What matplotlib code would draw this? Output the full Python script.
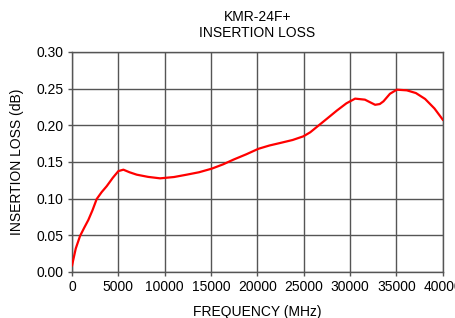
import matplotlib
matplotlib.use("Agg")
import matplotlib.pyplot as plt

plt.rcParams['font.family'] = ['Liberation Sans', 'DejaVu Sans']

# values
freq = [0, 400, 860, 1300, 1760, 2200, 2660, 3200, 3740, 4400, 5000, 5540,
        6200, 6980, 8200, 9500, 11000, 12370, 13700, 15070, 16300, 17410,
        18800, 20110, 21300, 22450, 23800, 24960, 25700, 26400, 27500,
        28560, 29600, 30540, 31600, 32700, 33200, 33600, 34300, 35040,
        36120, 37100, 38090, 39100, 40000]
loss = [0.009, 0.032, 0.049, 0.060, 0.071, 0.084, 0.0995, 0.109, 0.117,
        0.1285, 0.1376, 0.1395, 0.1360, 0.1327, 0.1297, 0.1277, 0.1295,
        0.1327, 0.1360, 0.1409, 0.1468, 0.1532, 0.1605, 0.1680, 0.1725,
        0.1759, 0.1800, 0.1850, 0.1905, 0.1977, 0.2090, 0.2200, 0.2300,
        0.2364, 0.2350, 0.2280, 0.2290, 0.2327, 0.2430, 0.2486, 0.2477,
        0.2440, 0.2360, 0.2230, 0.2077]

xticks = list(range(0, 40001, 5000))
yticks = [0.00, 0.05, 0.10, 0.15, 0.20, 0.25, 0.30]

fig = plt.figure(figsize=(4.56, 3.18), dpi=100)
ax = fig.add_axes([0.158, 0.1447, 0.813, 0.6918])

ax.plot(freq, loss, color="#ff0000", linewidth=1.6, zorder=3)

ax.set_xlim(0, 40000)
ax.set_ylim(0, 0.30)
ax.set_xticks(xticks)
ax.set_yticks(yticks)
ax.set_yticklabels(["%.2f" % v for v in yticks])
ax.grid(True, color="#555555", linewidth=1.0)
for s in ax.spines.values():
    s.set_color("#555555")
    s.set_linewidth(1.0)
ax.tick_params(labelsize=10, length=3, color="#555555", width=1.0, pad=3)

ax.set_title("KMR-24F+\nINSERTION LOSS", fontsize=10, pad=11, linespacing=1.15)
ax.set_xlabel("FREQUENCY (MHz)", fontsize=10, labelpad=8)
ax.set_ylabel("INSERTION LOSS (dB)", fontsize=10, labelpad=9)

fig.savefig("out.png", dpi=100)
